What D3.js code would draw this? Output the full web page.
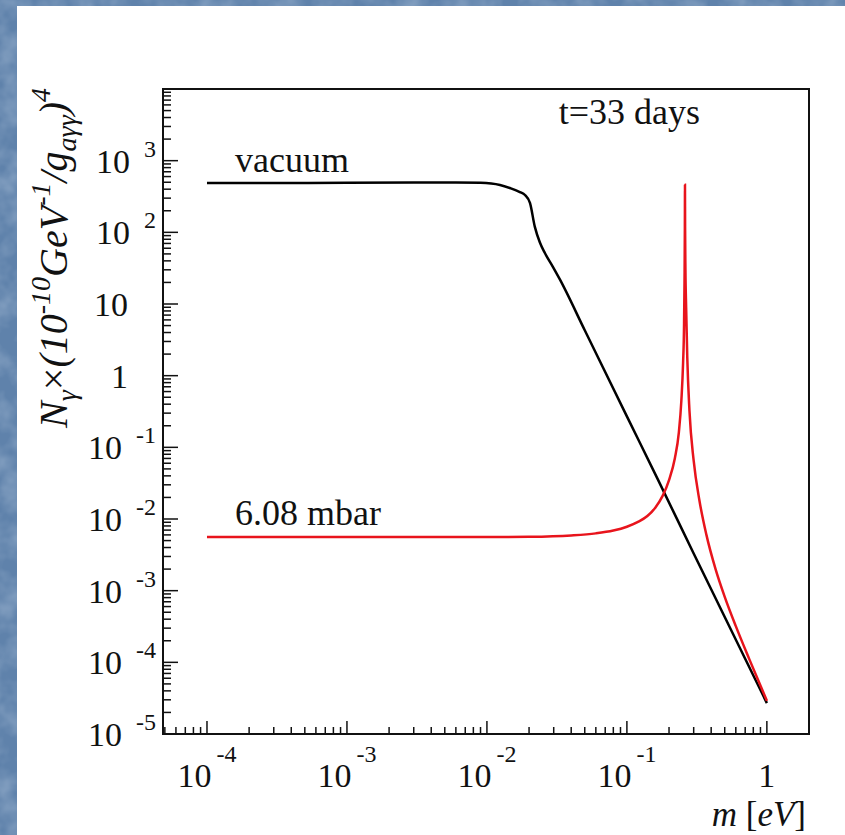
<!DOCTYPE html>
<html>
<head>
<meta charset="UTF-8">
<title>N gamma vs m</title>
<script src="https://d3js.org/d3.v7.min.js"></script>
<style>
  body { margin: 0; background: #6385ae; }
  svg { display: block; }
  text { font-family: "Liberation Serif", "DejaVu Serif", serif; fill: #111; }
</style>
</head>
<body>
<svg id="main" width="845" height="835"></svg>
<script>
// vacuum curve, m [eV] vs N
var vacM = [1e-4, 3e-4, 1e-3, 3e-3, 6e-3, 9e-3, 0.0124, 0.0146, 0.0172, 0.0187, 0.0203, 0.022, 0.0239, 0.026, 0.0296, 0.0332, 0.05, 0.1, 0.166, 0.3, 0.5, 1];
var vacN = [488, 488, 490, 494, 497, 490, 457, 415, 365, 332, 257, 119, 72, 51, 33, 22, 4.3, 0.27, 0.036, 3.3e-3, 4.3e-4, 2.7e-5];

// 6.08 mbar curve
var gasM = [1e-4, 3e-4, 1e-3, 3e-3, 0.01, 0.02, 0.04, 0.06, 0.08, 0.1, 0.12, 0.14, 0.16, 0.18, 0.2, 0.22, 0.235, 0.245, 0.252, 0.256, 0.258, 0.2595, 0.26,
            0.2605, 0.262, 0.265, 0.27, 0.28, 0.3, 0.33, 0.37, 0.43, 0.5, 0.6, 0.75, 1];
var gasN = [5.6e-3, 5.6e-3, 5.6e-3, 5.6e-3, 5.6e-3, 5.65e-3, 5.9e-3, 6.3e-3, 6.9e-3, 7.8e-3, 9.1e-3, 0.011, 0.0145, 0.021, 0.035, 0.07, 0.16, 0.45, 1.5, 5, 20, 120, 460,
            120, 30, 9, 1.8, 0.32, 0.065, 0.018, 6e-3, 2e-3, 8.2e-4, 3.2e-4, 1.1e-4, 2.9e-5];

var xMajor = [1e-4, 1e-3, 1e-2, 1e-1, 1];
var xExp = ["-4", "-3", "-2", "-1", ""];
var yMajor = [1e-5, 1e-4, 1e-3, 1e-2, 1e-1, 1, 10, 1e2, 1e3];
var yExp = ["-5", "-4", "-3", "-2", "-1", "", "", "2", "3"];
var yBase = ["10", "10", "10", "10", "10", "1", "10", "10", "10"];

function draw() {
  var svg = d3.select("#main");

  // blue textured backdrop
  var defs = svg.append("defs");
  var f = defs.append("filter").attr("id", "denim").attr("x", 0).attr("y", 0).attr("width", 1).attr("height", 1);
  f.append("feTurbulence").attr("type", "fractalNoise").attr("baseFrequency", "0.04 0.04").attr("numOctaves", 3).attr("seed", 7);
  f.append("feColorMatrix").attr("type", "matrix")
    .attr("values", "0 0 0 0 0.55  0 0 0 0 0.66  0 0 0 0 0.80  0.7 0 0 0 -0.25");
  svg.append("rect").attr("width", 845).attr("height", 835).attr("fill", "#5f82ab");
  svg.append("rect").attr("width", 845).attr("height", 835).attr("filter", "url(#denim)");

  // white panel
  svg.append("rect").attr("x", 17).attr("y", 6).attr("width", 828).attr("height", 829).attr("fill", "#fff");

  var pL = 163, pR = 809, pT = 89, pB = 734;
  var x = d3.scaleLog().domain([4.85e-5, 2.0]).range([pL, pR]);
  var y = d3.scaleLog().domain([1e-5, 1e4]).range([pB, pT]);

  defs.append("clipPath").attr("id", "frame").append("rect")
    .attr("x", pL).attr("y", pT).attr("width", pR - pL).attr("height", pB - pT);

  // minor + major ticks
  function logTicks(dom) {
    var out = [];
    for (var e = -6; e <= 5; e++) {
      for (var k = 1; k <= 9; k++) {
        var v = k * Math.pow(10, e);
        if (v >= dom[0] * 0.999 && v <= dom[1] * 1.001) out.push({ v: v, major: k === 1 });
      }
    }
    return out;
  }

  var g = svg.append("g");
  g.selectAll(".xt").data(logTicks(x.domain())).enter().append("line")
    .attr("x1", d => x(d.v)).attr("x2", d => x(d.v))
    .attr("y1", pB).attr("y2", d => pB - (d.major ? 13 : 7))
    .attr("stroke", "#111").attr("stroke-width", 1.5);
  g.selectAll(".yt").data(logTicks(y.domain())).enter().append("line")
    .attr("y1", d => y(d.v)).attr("y2", d => y(d.v))
    .attr("x1", pL).attr("x2", d => pL + (d.major ? 15 : 8))
    .attr("stroke", "#111").attr("stroke-width", 1.5);

  // frame
  svg.append("rect").attr("x", pL).attr("y", pT).attr("width", pR - pL).attr("height", pB - pT)
    .attr("fill", "none").attr("stroke", "#111").attr("stroke-width", 2);

  // curves
  var line = d3.line().x(d => x(d[0])).y(d => y(d[1])).curve(d3.curveMonotoneX);
  var plot = svg.append("g").attr("clip-path", "url(#frame)");
  plot.append("path").datum(d3.zip(vacM, vacN)).attr("d", line)
    .attr("fill", "none").attr("stroke", "#000").attr("stroke-width", 2.5);
  plot.append("path").datum(d3.zip(gasM, gasN)).attr("d", line)
    .attr("fill", "none").attr("stroke", "#e8141c").attr("stroke-width", 2.5);

  // x tick labels
  xMajor.forEach(function(v, i) {
    var t = svg.append("text").attr("x", x(v)).attr("y", 787).attr("text-anchor", "middle").attr("font-size", 34);
    t.append("tspan").text(xExp[i] ? "10" : "1");
    if (xExp[i]) t.append("tspan").attr("dx", 5).attr("dy", -25).attr("font-size", 24).text(xExp[i]);
  });

  // y tick labels
  yMajor.forEach(function(v, i) {
    if (yExp[i]) {
      var t = svg.append("text").attr("x", 156).attr("y", y(v) + 12).attr("text-anchor", "end").attr("font-size", 34);
      t.append("tspan").text(yBase[i]);
      t.append("tspan").attr("dx", 14).attr("dy", -16).attr("font-size", 24).text(yExp[i]);
    } else {
      svg.append("text").attr("x", 128).attr("y", y(v) + 12).attr("text-anchor", "end").attr("font-size", 34).text(yBase[i]);
    }
  });

  // axis titles
  var xt = svg.append("text").attr("x", 806).attr("y", 826).attr("text-anchor", "end").attr("font-size", 35);
  xt.append("tspan").attr("font-style", "italic").text("m");
  xt.append("tspan").text(" [");
  xt.append("tspan").attr("font-style", "italic").text("eV");
  xt.append("tspan").text("]");

  var yt = svg.append("text").attr("transform", "translate(67,88) rotate(-90)")
    .attr("text-anchor", "end").attr("font-size", 40).attr("font-style", "italic");
  yt.append("tspan").text("N");
  yt.append("tspan").attr("dy", 9).attr("font-size", 28).text("\u03b3");
  yt.append("tspan").attr("dy", -9).attr("font-style", "normal").text("\u00d7");
  yt.append("tspan").text("(10");
  yt.append("tspan").attr("dy", -17).attr("font-size", 28).text("-10");
  yt.append("tspan").attr("dy", 17).text("GeV");
  yt.append("tspan").attr("dy", -17).attr("font-size", 28).text("-1");
  yt.append("tspan").attr("dy", 17).text("/g");
  yt.append("tspan").attr("dy", 9).attr("font-size", 28).text("a\u03b3\u03b3");
  yt.append("tspan").attr("dy", -9).text(")");
  yt.append("tspan").attr("dy", -17).attr("font-size", 28).text("4");

  // annotations
  svg.append("text").attr("x", 700).attr("y", 124).attr("text-anchor", "end").attr("font-size", 36).text("t=33 days");
  svg.append("text").attr("x", 235).attr("y", 172).attr("font-size", 36).text("vacuum");
  svg.append("text").attr("x", 235).attr("y", 525).attr("font-size", 36).text("6.08 mbar");
}
draw();
</script>
</body>
</html>
